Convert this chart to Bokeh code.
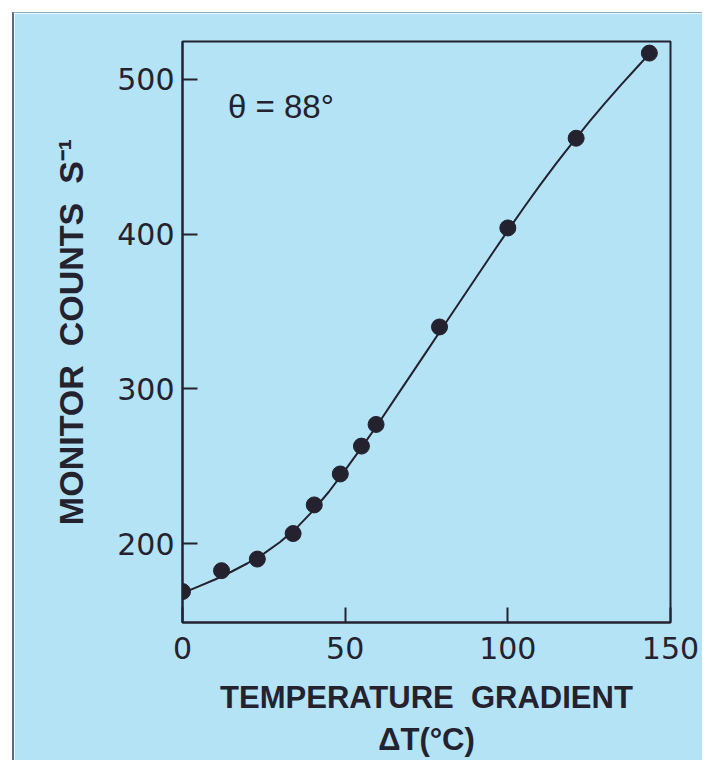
from bokeh.plotting import figure
from bokeh.models import Range1d, FixedTicker
from bokeh.core.properties import value
from bokeh.embed import file_html
from bokeh.resources import INLINE

# measured data points (temperature gradient, monitor counts)
delta_t = [0, 12, 23, 34, 40.5, 48.5, 55, 59.5, 79, 100, 121, 143.5]
counts = [169, 182.5, 190, 206.5, 225, 245, 263, 277, 340, 404, 462, 517]

# smooth curve
curve_t = [0, 5, 10, 15, 20, 25, 30, 35, 40, 45, 50, 55, 60, 65, 70, 75, 80,
           85, 90, 95, 100, 105, 110, 115, 120, 125, 130, 135, 140, 143.5]
curve_counts = [168, 172.3, 176.8, 181.8, 187.3, 193.5, 201, 210, 221, 233.5,
                247.5, 262, 277, 292.7, 308.4, 324.1, 339.8, 355.5, 371.2,
                386.8, 402.3, 417.4, 432, 446, 459.5, 472.5, 485, 497, 508.5,
                516.5]

x_ticks = [0, 50, 100, 150]
y_ticks = [200, 300, 400, 500]

bg = "#b4e3f6"
ink = "#23222e"

p = figure(width=690, height=748,
           x_range=Range1d(0, 150), y_range=Range1d(149, 524.5),
           output_backend="svg", toolbar_location=None,
           min_border_left=168, min_border_top=28,
           min_border_right=34, min_border_bottom=139)
p.margin = (12, 0, 0, 12)
p.styles = {"border-left": "2px solid #5b6b8c", "border-top": "1px solid #8fa6c0"}
p.background_fill_color = bg
p.border_fill_color = bg
p.grid.visible = False
p.outline_line_color = ink
p.outline_line_width = 2

for ax in (p.xaxis[0], p.yaxis[0]):
    ax.axis_line_color = ink
    ax.axis_line_width = 2
    ax.major_tick_line_color = ink
    ax.major_tick_line_width = 2
    ax.major_tick_in = 15
    ax.major_tick_out = 0
    ax.minor_tick_line_color = None
    ax.major_label_text_font = "DejaVu Sans"
    ax.major_label_text_font_size = "30px"
    ax.major_label_text_color = ink
    ax.axis_label_text_font = "Liberation Sans"
    ax.axis_label_text_font_style = "bold"
    ax.axis_label_text_font_size = "31px"
    ax.axis_label_text_color = ink

p.xaxis.ticker = FixedTicker(ticks=x_ticks)
p.yaxis.ticker = FixedTicker(ticks=y_ticks)
p.xaxis.major_label_standoff = 14
p.yaxis.major_label_standoff = 8
p.xaxis.axis_label = "TEMPERATURE \u00a0GRADIENT\n\u0394T(\u00b0C)"
p.yaxis.axis_label = "MONITOR \u00a0COUNTS \u00a0S\u207b\u00b9"
p.yaxis.axis_label_text_font_size = "34px"
p.xaxis.axis_label_standoff = 18
p.yaxis.axis_label_standoff = 24

p.line(curve_t, curve_counts, line_color=ink, line_width=2)
p.scatter(delta_t, counts, size=16, fill_color=ink, line_color=ink)

p.text(x=[14], y=[482.5], text=["\u03b8 = 88\u00b0"],
       text_font=value("Liberation Sans"), text_font_size="33px",
       text_baseline="middle", text_align="left", text_color=ink)

open("out.html", "w").write(file_html(p, INLINE))
